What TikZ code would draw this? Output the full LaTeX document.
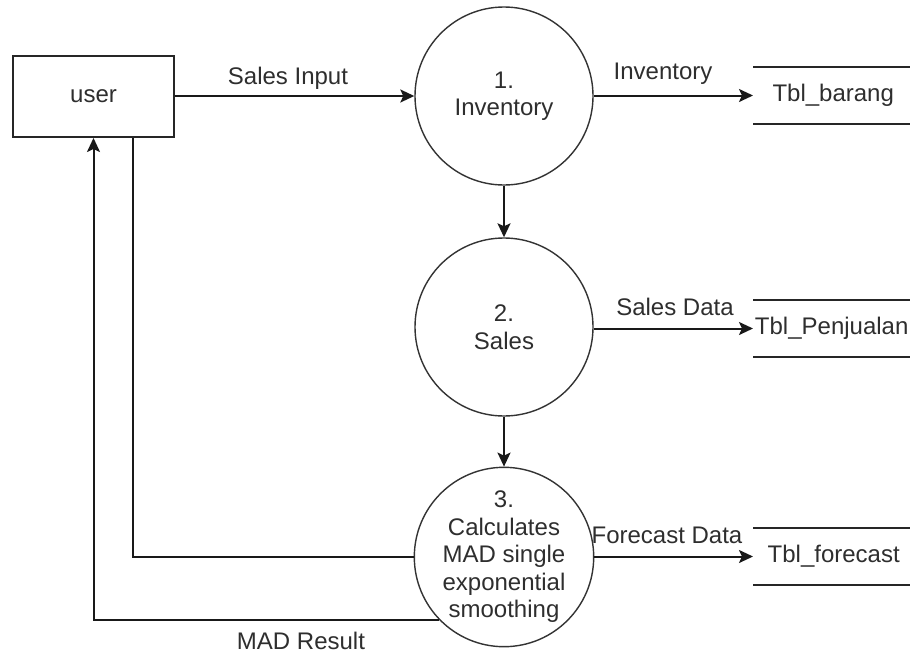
\documentclass[tikz,border=0pt]{standalone}
\usepackage{fontspec}
\setmainfont{Liberation Sans}
\usetikzlibrary{arrows.meta,calc}

\tikzset{
  every node/.style={font=\fontsize{24}{27.5}\selectfont, text=black!82},
  entity/.style={draw=black!85, line width=2pt, minimum width=161pt, minimum height=81pt, inner sep=0pt},
  process/.style={circle, draw=black!80, line width=1.4pt, minimum size=178pt, inner sep=0pt, align=center},
  store/.style={minimum width=157pt, minimum height=57pt, inner sep=0pt, anchor=west},
  storeline/.style={draw=black!85, line width=2pt},
  flow/.style={draw=black!90, line width=2pt, -{Stealth[length=14pt,width=13pt,inset=3pt]}},
  plain/.style={draw=black!90, line width=2pt},
  lbl/.style={inner sep=1pt},
}

\begin{document}
\begin{tikzpicture}[x=1pt, y=-1pt]
  \useasboundingbox (0,0) rectangle (910,656);

  % external entity
  \node[entity] (user) at (93.5,96.5) {user};

  % processes
  \node[process] (p1) at (504,96) {1.\\Inventory};
  \node[process] (p2) at (504,327) {2.\\Sales};
  \node[process] (p3) at (504,557) {3.\\Calculates\\MAD single\\exponential\\smoothing};

  % data stores
  \node[store] (s1) at (753,95.5) {\hspace*{3pt}Tbl\_barang};
  \node[store] (s2) at (753,328.5) {Tbl\_Penjualan};
  \node[store] (s3) at (753,556.5) {\hspace*{4pt}Tbl\_forecast};
  \foreach \s in {s1,s2,s3} {
    \draw[storeline] (\s.north west) -- (\s.north east);
    \draw[storeline] (\s.south west) -- (\s.south east);
  }

  % data flows
  \draw[flow] (user.east |- p1.west) -- (p1.west);
  \node[lbl] (lsi) at (288,78) {Sales Input};

  \draw[flow] (p1.east |- s1.west) -- (s1.west);
  \node[lbl] (linv) at (663,74) {Inventory};

  \draw[flow] (p1.south) -- (p2.north);
  \draw[flow] (p2.south) -- (p3.north);

  \draw[flow] (p2.east |- s2.west) -- (s2.west);
  \node[lbl] (lsd) at (675,307) {Sales Data};

  \draw[flow] (p3.east |- s3.west) -- (s3.west);
  \node[lbl] (lfd) at (667,535) {Forecast Data};

  \coordinate (uin) at ([xshift=39.5pt]user.south);
  \draw[plain] (uin) |- (p3.west);

  \draw[flow] (p3.224) -| (user.south);
  \node[lbl] (lmad) at (301,641) {MAD Result};
\end{tikzpicture}
\end{document}
